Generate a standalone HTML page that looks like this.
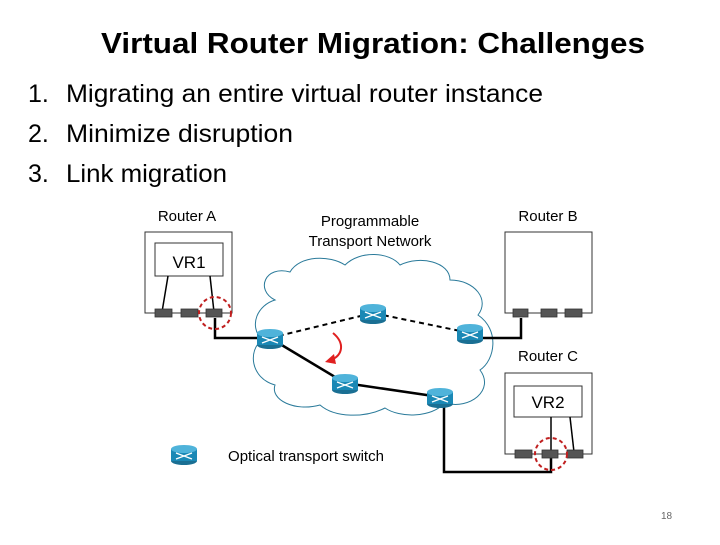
<!DOCTYPE html>
<html><head><style>
body{margin:0;background:#fff;width:720px;height:540px;overflow:hidden;font-family:"Liberation Sans",sans-serif;}
</style></head><body>
<svg width="720" height="540" xmlns="http://www.w3.org/2000/svg" font-family="Liberation Sans, sans-serif">
<text x="373" y="53" font-size="29" font-weight="bold" text-anchor="middle" fill="#000" textLength="544" lengthAdjust="spacingAndGlyphs">Virtual Router Migration: Challenges</text>
<g font-size="25" fill="#000">
<text x="28" y="102">1.</text><text x="66" y="102" textLength="477" lengthAdjust="spacingAndGlyphs">Migrating an entire virtual router instance</text>
<text x="28" y="142">2.</text><text x="66" y="142" textLength="227" lengthAdjust="spacingAndGlyphs">Minimize disruption</text>
<text x="28" y="182">3.</text><text x="66" y="182" textLength="161" lengthAdjust="spacingAndGlyphs">Link migration</text>
</g>
<text x="661" y="519" font-size="10" fill="#666">18</text>
<!-- cloud -->
<path d="M275,300 C255,290 265,265 290,272 C300,255 330,255 345,265 C360,250 390,252 400,265 C420,255 450,262 450,280 C475,280 490,300 478,315 C500,330 495,360 480,370 C495,390 470,410 445,403 C430,418 400,418 385,408 C365,418 335,418 320,405 C295,412 270,400 275,385 C250,378 248,350 262,340 C248,325 258,305 275,300 Z" fill="#fff" stroke="#2a7a9a" stroke-width="1"/>
<g fill="#fff" stroke="#333" stroke-width="1">
<rect x="145" y="232" width="87" height="81"/>
<rect x="155" y="243" width="68" height="33"/>
<rect x="505" y="232" width="87" height="81"/>
<rect x="505" y="373" width="87" height="81"/>
<rect x="514" y="386" width="68" height="31"/>
</g>
<g font-size="15" fill="#000" text-anchor="middle">
<text x="187" y="221">Router A</text>
<text x="548" y="221">Router B</text>
<text x="548" y="361">Router C</text>
<text x="370" y="226">Programmable</text>
<text x="370" y="246">Transport Network</text>
<text x="189" y="268" font-size="17">VR1</text>
<text x="548" y="408" font-size="17">VR2</text>
<text x="306" y="461" text-anchor="middle">Optical transport switch</text>
</g>
<g stroke="#000" stroke-width="1.5" fill="none">
<line x1="168" y1="276" x2="162" y2="312"/>
<line x1="210" y1="276" x2="214" y2="312"/>
<line x1="551" y1="417" x2="551" y2="452"/>
<line x1="570" y1="417" x2="574" y2="452"/>
</g>
<g stroke="#000" stroke-width="2.5" fill="none">
<polyline points="215,318 215,338 265,338"/>
<polyline points="521,318 521,338 475,338"/>
<polyline points="270,338 345,383 440,397"/>
<polyline points="444,402 444,472 551,472 551,458"/>
</g>
<g stroke="#000" stroke-width="2" stroke-dasharray="5,4" fill="none">
<polyline points="270,338 373,313 470,333"/>
</g>
<path d="M333,333 C345,343 343,355 331,360" stroke="#e02020" stroke-width="2" fill="none"/>
<polygon points="325,362 334,354 336,364" fill="#e02020"/>
<g fill="#555" stroke="#333" stroke-width="0.8">
<rect x="155" y="309" width="17" height="8"/><rect x="181" y="309" width="17" height="8"/><rect x="206" y="309" width="16" height="8"/>
<rect x="513" y="309" width="15" height="8"/><rect x="541" y="309" width="16" height="8"/><rect x="565" y="309" width="17" height="8"/>
<rect x="515" y="450" width="17" height="8"/><rect x="542" y="450" width="16" height="8"/><rect x="567" y="450" width="16" height="8"/>
</g>
<g fill="none" stroke="#c02020" stroke-width="2" stroke-dasharray="4,3">
<circle cx="215" cy="313" r="16"/>
<circle cx="551" cy="454" r="16"/>
</g>
<defs>
<g id="sw">
<ellipse cx="0" cy="7" rx="13" ry="4" fill="#1a6f93"/>
<rect x="-13" y="-5" width="26" height="12" fill="#1a88b5"/>
<ellipse cx="0" cy="-5" rx="13" ry="4" fill="#4fb3da"/>
<path d="M-8,-1 L8,5 M-8,5 L8,-1" stroke="#fff" stroke-width="1.3"/>
</g>
</defs>
<use href="#sw" x="270" y="338"/>
<use href="#sw" x="373" y="313"/>
<use href="#sw" x="470" y="333"/>
<use href="#sw" x="345" y="383"/>
<use href="#sw" x="440" y="397"/>
<use href="#sw" x="184" y="454"/>
</svg>
</body></html>
